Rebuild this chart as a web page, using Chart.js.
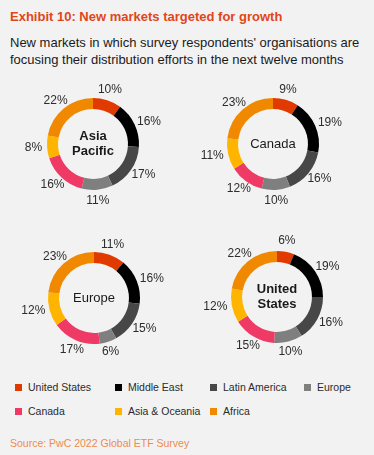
<!DOCTYPE html>
<html>
<head>
<meta charset="utf-8">
<script src="https://cdn.jsdelivr.net/npm/chart.js@4.4.0/dist/chart.umd.min.js"></script>
<style>
    body {
        margin: 0;
        width: 374px;
        height: 455px;
        background: #f2f2f2;
        font-family: "Liberation Sans", Arial, sans-serif;
        position: relative;
        overflow: hidden;
    }
    .title {
        position: absolute;
        left: 10px;
        top: 9px;
        font-size: 13px;
        font-weight: bold;
        color: #e0461a;
    }
    .subtitle {
        position: absolute;
        left: 10px;
        top: 34px;
        font-size: 13px;
        line-height: 17px;
        color: #1a1a1a;
    }
    .donut {
        position: absolute;
    }
    .legend-item {
        position: absolute;
        font-size: 10.5px;
        color: #2b2b2b;
        white-space: nowrap;
    }
    .legend-item span {
        position: absolute;
        left: 0;
        top: 4px;
        width: 7px;
        height: 7px;
    }
    .legend-item div {
        position: absolute;
        left: 13px;
        top: 0;
        line-height: 14px;
    }
    .source {
        position: absolute;
        left: 10px;
        top: 437px;
        font-size: 10.5px;
        color: #ee8b4e;
    }
</style>
</head>
<body>
<div class="title">Exhibit 10: New markets targeted for growth</div>
<div class="subtitle">New markets in which survey respondents' organisations are<br>focusing their distribution efforts in the next twelve months</div>
<div id="charts"></div>
<div id="legend"></div>
<div class="source">Source: PwC 2022 Global ETF Survey</div>

<script>
// Категории (рынки) и цвета
const markets = ['United States', 'Middle East', 'Latin America', 'Europe', 'Canada', 'Asia & Oceania', 'Africa'];
const colors = ['#e03a00', '#000000', '#474747', '#7f7f7f', '#ee3a64', '#ffb400', '#f08900'];

// Регионы респондентов (подписи в центре)
const regions = [['Asia', 'Pacific'], ['Canada'], ['Europe'], ['United', 'States']];
const regionBold = [true, false, false, true];

// Доли, %
const asiaPacific = [10, 16, 17, 11, 16, 8, 22];
const canada = [9, 19, 16, 10, 12, 11, 23];
const europe = [11, 16, 15, 6, 17, 12, 23];
const unitedStates = [6, 19, 16, 10, 15, 12, 22];
const series = [asiaPacific, canada, europe, unitedStates];

// Центры колец на странице
const centers = [[93, 144], [273, 144], [93.5, 298], [276.5, 296.5]];

// Подписи процентов и текст в центре
const labelPlugin = {
    id: 'donutLabels',
    afterDatasetsDraw(chart) {
        const ctx = chart.ctx;
        const meta = chart.getDatasetMeta(0);
        const values = chart.data.datasets[0].data;
        ctx.save();
        ctx.font = '12px "Liberation Sans", Arial, sans-serif';
        ctx.fillStyle = '#2d2d2d';
        ctx.textAlign = 'center';
        ctx.textBaseline = 'middle';
        meta.data.forEach((arc, i) => {
            const mid = (arc.startAngle + arc.endAngle) / 2;
            const text = values[i] + '%';
            const w = ctx.measureText(text).width;
            const r = arc.outerRadius + 5;
            const x = arc.x + Math.cos(mid) * (r + w / 2 * Math.abs(Math.cos(mid)));
            const y = arc.y + Math.sin(mid) * (r + 6 * Math.abs(Math.sin(mid)));
            ctx.fillText(text, x, y);
        });

        const lines = chart.options.plugins.donutLabels.lines;
        ctx.font = (chart.options.plugins.donutLabels.bold ? 'bold ' : '') + '13px "Liberation Sans", Arial, sans-serif';
        ctx.fillStyle = '#1a1a1a';
        const arc0 = meta.data[0];
        const lh = 15;
        lines.forEach((line, j) => {
            ctx.fillText(line, arc0.x, arc0.y + (j - (lines.length - 1) / 2) * lh);
        });
        ctx.restore();
    }
};

const chartsBox = document.getElementById('charts');
series.forEach((values, k) => {
    const canvas = document.createElement('canvas');
    canvas.className = 'donut';
    canvas.width = 180;
    canvas.height = 150;
    canvas.style.left = (centers[k][0] - 90) + 'px';
    canvas.style.top = (centers[k][1] - 75) + 'px';
    chartsBox.appendChild(canvas);

    new Chart(canvas.getContext('2d'), {
        type: 'doughnut',
        data: {
            labels: markets,
            datasets: [{
                data: values,
                backgroundColor: colors,
                borderWidth: 0
            }]
        },
        options: {
            responsive: false,
            animation: false,
            radius: 46,
            cutout: '76%',
            plugins: {
                legend: { display: false },
                tooltip: { enabled: false },
                donutLabels: { lines: regions[k], bold: regionBold[k] }
            }
        },
        plugins: [labelPlugin]
    });
});

// Легенда
const legendCols = [15, 115, 210, 304];
const legendRows = [380, 404];
const legendBox = document.getElementById('legend');
markets.forEach((name, i) => {
    const item = document.createElement('div');
    item.className = 'legend-item';
    item.style.left = legendCols[i % 4] + 'px';
    item.style.top = legendRows[Math.floor(i / 4)] + 'px';
    item.innerHTML = `<span style="background:${colors[i]}"></span><div>${name}</div>`;
    legendBox.appendChild(item);
});
</script>
</body>
</html>
